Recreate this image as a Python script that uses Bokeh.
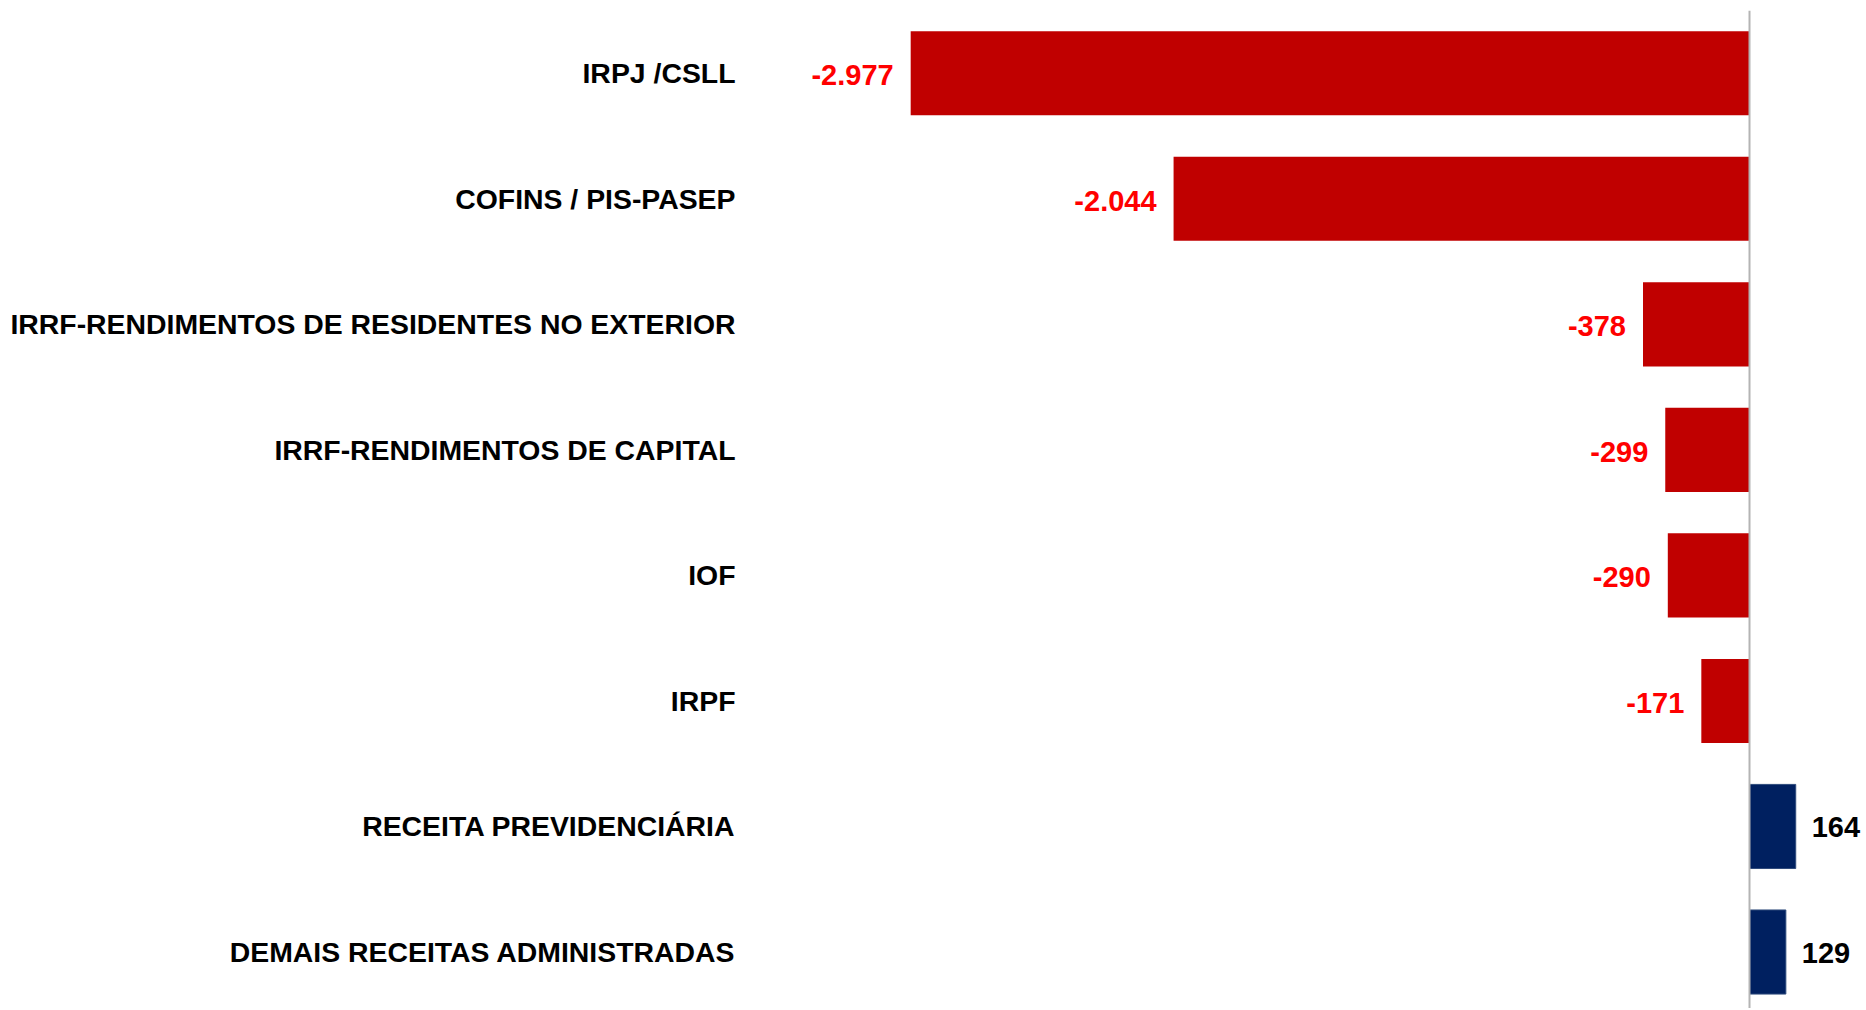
from bokeh.plotting import figure
from bokeh.models import ColumnDataSource, Range1d, Span, FixedTicker
from bokeh.core.properties import value
from bokeh.embed import file_html
from bokeh.resources import INLINE

categories = [
    "IRPJ /CSLL",
    "COFINS / PIS-PASEP",
    "IRRF-RENDIMENTOS DE RESIDENTES NO EXTERIOR",
    "IRRF-RENDIMENTOS DE CAPITAL",
    "IOF",
    "IRPF",
    "RECEITA PREVIDENCIÁRIA",
    "DEMAIS RECEITAS ADMINISTRADAS",
]
values = [-2977, -2044, -378, -299, -290, -171, 164, 129]

NEG_BAR = "#C00000"
POS_BAR = "#002060"
NEG_TXT = "#FF0000"
POS_TXT = "#000000"
FONT = "Liberation Sans"


def fmt(v):
    return f"{v:,}".replace(",", ".")


rows = list(range(len(categories)))
neg = [(i, v) for i, v in zip(rows, values) if v < 0]
pos = [(i, v) for i, v in zip(rows, values) if v >= 0]

neg_src = ColumnDataSource(dict(row=[i for i, _ in neg], val=[v for _, v in neg],
                                lab=[fmt(v) for _, v in neg]))
pos_src = ColumnDataSource(dict(row=[i for i, _ in pos], val=[v for _, v in pos],
                                lab=[fmt(v) for _, v in pos]))

p = figure(
    width=1862, height=1008,
    y_range=Range1d(7.45, -0.5),
    x_range=Range1d(-3510, 401),
    x_axis_location=None,
    output_backend="svg", toolbar_location=None,
    min_border_left=760, min_border_right=0, min_border_top=10, min_border_bottom=0,
)
p.outline_line_color = None
p.xgrid.visible = False
p.ygrid.visible = False
p.background_fill_color = "white"
p.border_fill_color = "white"

p.hbar(y="row", left=0, right="val", height=0.67, source=neg_src,
       fill_color=NEG_BAR, line_color=None)
p.hbar(y="row", left=0, right="val", height=0.67, source=pos_src,
       fill_color=POS_BAR, line_color="#2F4B7C", line_width=1)

p.text(x="val", y="row", text="lab", source=neg_src, x_offset=-17, y_offset=2,
       text_align="right", text_baseline="middle", text_color=NEG_TXT,
       text_font=value(FONT), text_font_style="bold", text_font_size="29px")
p.text(x="val", y="row", text="lab", source=pos_src, x_offset=16, y_offset=1,
       text_align="left", text_baseline="middle", text_color=POS_TXT,
       text_font=value(FONT), text_font_style="bold", text_font_size="29px")

p.add_layout(Span(location=0, dimension="height", line_color="#B4B4B4", line_width=2))

ax = p.yaxis[0]
ax.ticker = FixedTicker(ticks=rows)
ax.major_label_overrides = {i: c for i, c in zip(rows, categories)}
ax.minor_tick_line_color = None
ax.axis_line_color = None
ax.major_tick_line_color = None
ax.major_tick_out = 0
ax.major_tick_in = 0
ax.major_label_standoff = 25
ax.major_label_text_font = FONT
ax.major_label_text_font_style = "bold"
ax.major_label_text_font_size = "28.4px"
ax.major_label_text_color = "#000000"

open("out.html", "w").write(file_html(p, INLINE))
